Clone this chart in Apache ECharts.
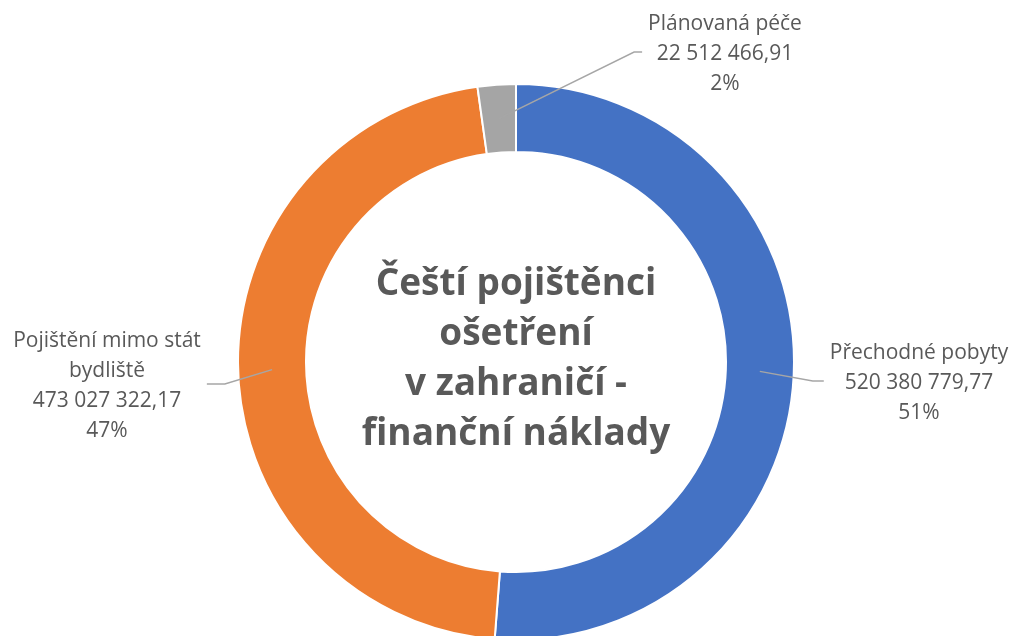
<!DOCTYPE html>
<html>
<head>
<meta charset="utf-8">
<title>Čeští pojištěnci ošetření v zahraničí</title>
<script src="https://cdn.jsdelivr.net/npm/echarts@6/dist/echarts.min.js"></script>
<style>
  html, body { margin: 0; padding: 0; background: #fff; }
  #chart { width: 1016px; height: 636px; }
</style>
</head>
<body>
<div id="chart"></div>
<script>
  // data
  const categories = ['Přechodné pobyty', 'Pojištění mimo stát bydliště', 'Plánovaná péče'];
  const values = [520380779.77, 473027322.17, 22512466.91];
  const colors = ['#4472C4', '#ED7D31', '#A5A5A5'];

  // layout
  const CX = 516, CY = 362;
  const R_IN = 210, R_OUT = 278;
  const R_MID = (R_IN + R_OUT) / 2;
  const FONT = 'Open Sans';
  // label centres and length of the horizontal piece of the leader
  const labelPos = [
    { x: 919, y: 383, elbow: 11 },
    { x: 107, y: 386, elbow: 18 },
    { x: 725, y: 54, elbow: 8 }
  ];

  // 520380779.77 -> "520 380 779,77"
  function czNumber(v) {
    let parts = v.toFixed(2).split('.');
    let int = parts[0].replace(/\B(?=(\d{3})+(?!\d))/g, ' ');
    return int + ',' + parts[1];
  }

  // long names go on two lines, like the excel label box does
  function wrapName(name) {
    if (name.length <= 20) return name;
    let cut = name.lastIndexOf(' ', 20);
    return name.slice(0, cut) + '\n' + name.slice(cut + 1);
  }

  const myChart = echarts.init(document.getElementById('chart'));
  const option = {
    animation: false,
    title: {
      text: 'Čeští pojištěnci\nošetření\nv zahraničí -\nfinanční náklady',
      left: CX,
      top: 259,
      padding: 0,
      textAlign: 'center',
      textStyle: {
        fontFamily: FONT,
        fontSize: 37,
        fontWeight: 'bold',
        color: '#595959',
        lineHeight: 50
      }
    },
    series: [{
      // the ring itself
      type: 'pie',
      z: 2,
      center: [CX, CY],
      radius: [R_IN, R_OUT],
      startAngle: 90,
      clockwise: true,
      silent: true,
      label: { show: false },
      labelLine: { show: false },
      itemStyle: {
        borderColor: '#fff',
        borderWidth: 2
      },
      data: categories.map(function (name, i) {
        return { name: name, value: values[i], itemStyle: { color: colors[i] } };
      })
    }, {
      // invisible copy, only for labels; leaders start in the middle of the ring and sit on top
      type: 'pie',
      z: 3,
      center: [CX, CY],
      radius: [R_IN, R_MID],
      startAngle: 90,
      clockwise: true,
      silent: true,
      avoidLabelOverlap: false,
      itemStyle: { color: 'rgba(0,0,0,0)', borderWidth: 0 },
      label: {
        show: true,
        position: 'outside',
        fontFamily: FONT,
        fontSize: 21,
        lineHeight: 30,
        color: '#595959',
        align: 'center',
        formatter: function (p) {
          return wrapName(p.name) + '\n' + czNumber(p.value) + '\n' + Math.round(p.percent) + '%';
        }
      },
      labelLine: {
        show: true,
        length: 10,
        length2: 10,
        lineStyle: { color: '#A6A6A6', width: 1.5 }
      },
      labelLayout: function (params) {
        const pos = labelPos[params.dataIndex];
        const w = params.labelRect.width;
        const right = pos.x > CX;
        const start = params.labelLinePoints[0];
        const endX = right ? pos.x - w / 2 - 6 : pos.x + w / 2 + 6;
        const lineY = pos.y - 2;
        const bend = [endX + (right ? -pos.elbow : pos.elbow), lineY];
        return {
          x: pos.x,
          y: pos.y,
          align: 'center',
          verticalAlign: 'middle',
          labelLinePoints: [start, bend, [endX, lineY]]
        };
      },
      data: categories.map(function (name, i) {
        return { name: name, value: values[i] };
      })
    }]
  };
  myChart.setOption(option);
</script>
</body>
</html>
